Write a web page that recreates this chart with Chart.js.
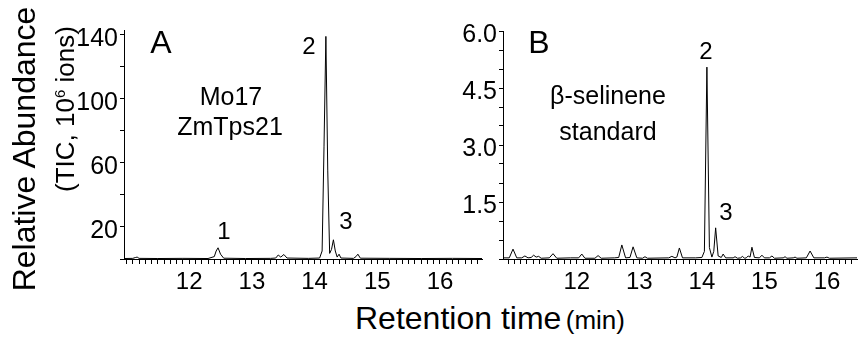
<!DOCTYPE html>
<html><head><meta charset="utf-8">
<script src="https://cdn.jsdelivr.net/npm/chart.js@4.4.1/dist/chart.umd.min.js"></script>
<style>
html,body{margin:0;padding:0;background:#fff;}
#wrap{position:relative;width:862px;height:341px;overflow:hidden;font-family:"Liberation Sans",Arial,sans-serif;color:#000;}
.box{position:absolute;}
.t{position:absolute;white-space:nowrap;line-height:1;transform:translate(-50%,-50%);}
</style></head><body>
<div id="wrap">
 <div class="box" style="left:0;top:0;width:490px;height:300px"><canvas id="cA" width="490" height="300"></canvas></div>
 <div class="box" style="left:430px;top:0;width:432px;height:300px"><canvas id="cB" width="432" height="300"></canvas></div>

 <div class="t" style="left:24px;top:149px;font-size:32px;transform:translate(-50%,-50%) rotate(-90deg)">Relative Abundance</div>
 <div class="t" style="left:65px;top:109px;font-size:26px;transform:translate(-50%,-50%) rotate(-90deg)">(TIC, 10<sup style="font-size:15px;vertical-align:9px">6</sup> ions)</div>
 <div class="t" style="left:355px;top:318px;transform:translate(0,-50%)"><span style="font-size:32px">Retention time</span> <span style="font-size:26px">(min)</span></div>

 <div class="t" style="left:161px;top:42px;font-size:32px">A</div>
 <div class="t" style="left:539px;top:42px;font-size:32px">B</div>
 <div class="t" style="left:231px;top:96px;font-size:25px">Mo17</div>
 <div class="t" style="left:230px;top:126px;font-size:25px">ZmTps21</div>
 <div class="t" style="left:608px;top:95px;font-size:25px">β-selinene</div>
 <div class="t" style="left:608px;top:131px;font-size:25px">standard</div>
 <div class="t" style="left:224px;top:231px;font-size:24px">1</div>
 <div class="t" style="left:309px;top:46px;font-size:24px">2</div>
 <div class="t" style="left:346px;top:221px;font-size:24px">3</div>
 <div class="t" style="left:706px;top:51px;font-size:24px">2</div>
 <div class="t" style="left:726px;top:212px;font-size:24px">3</div>
</div>
<script>
// ---- data ----
const timeA  = [10.96, 11.10, 11.14, 11.17, 11.20, 11.50, 11.90, 12.30, 12.40, 12.43, 12.46, 12.50, 12.55, 12.90, 13.30, 13.38, 13.42, 13.46, 13.51, 13.56, 13.90, 14.08, 14.12, 14.15, 14.18, 14.21, 14.24, 14.27, 14.30, 14.33, 14.36, 14.39, 14.42, 14.62, 14.66, 14.69, 14.73, 15.20, 15.70, 16.20, 16.67];
const abundA = [0.3, 0.4, 0.9, 1.2, 0.4, 0.3, 0.4, 0.3, 1.5, 5, 7, 3, 0.5, 0.3, 0.4, 0.6, 2.5, 1.2, 2.8, 0.6, 0.4, 0.6, 5, 70, 139, 55, 3.5, 6, 12, 5, 1.2, 3, 0.6, 0.4, 1.5, 3, 0.5, 0.4, 0.3, 0.4, 0.3];

const timeB  = [10.82, 10.92, 10.98, 11.04, 11.12, 11.17, 11.22, 11.27, 11.31, 11.35, 11.39, 11.43, 11.56, 11.62, 11.68, 11.90, 12.03, 12.08, 12.13, 12.29, 12.34, 12.39, 12.60, 12.67, 12.72, 12.78, 12.85, 12.90, 12.96, 13.05, 13.09, 13.13, 13.47, 13.52, 13.57, 13.60, 13.64, 13.69, 13.90, 14.00, 14.04, 14.08, 14.12, 14.16, 14.19, 14.22, 14.26, 14.31, 14.34, 14.38, 14.50, 14.53, 14.57, 14.62, 14.65, 14.68, 14.71, 14.74, 14.77, 14.80, 14.84, 14.92, 14.96, 15.00, 15.08, 15.12, 15.16, 15.30, 15.33, 15.36, 15.46, 15.49, 15.52, 15.67, 15.73, 15.79, 15.96, 16.00, 16.04, 16.48];
const abundB = [0.03, 0.03, 0.26, 0.03, 0.03, 0.08, 0.03, 0.04, 0.10, 0.05, 0.07, 0.02, 0.03, 0.14, 0.02, 0.03, 0.03, 0.13, 0.02, 0.02, 0.09, 0.02, 0.03, 0.04, 0.37, 0.03, 0.04, 0.32, 0.03, 0.02, 0.06, 0.02, 0.03, 0.07, 0.03, 0.05, 0.29, 0.03, 0.03, 0.04, 0.20, 5.05, 0.30, 0.05, 0.20, 0.82, 0.08, 0.04, 0.13, 0.03, 0.03, 0.06, 0.02, 0.03, 0.07, 0.02, 0.03, 0.08, 0.05, 0.31, 0.04, 0.03, 0.10, 0.03, 0.03, 0.08, 0.02, 0.03, 0.06, 0.02, 0.03, 0.05, 0.02, 0.03, 0.21, 0.03, 0.03, 0.05, 0.02, 0.03];

const xTickLabels  = [12, 13, 14, 15, 16];
const yTickLabelsA = [20, 60, 100, 140];
const yTickLabelsB = [1.5, 3.0, 4.5, 6.0];

// ---- chart builder ----
const FONT = "'Liberation Sans', Arial, sans-serif";
Chart.defaults.font.family = FONT;
Chart.defaults.color = '#000';

function makeChart(id, times, values, o) {
  const pts = times.map((t, i) => ({x: t, y: values[i]}));
  return new Chart(document.getElementById(id), {
    type: 'line',
    data: {datasets: [{data: pts, borderColor: '#000', borderWidth: 1, pointRadius: 0, tension: 0, fill: false}]},
    options: {
      responsive: false, animation: false,
      layout: {padding: {left: 0, right: o.padRight, top: o.padTop, bottom: 0}},
      plugins: {legend: {display: false}, tooltip: {enabled: false}},
      scales: {
        x: {
          type: 'linear', position: 'bottom', min: o.xmin, max: o.xmax,
          afterBuildTicks: s => {
            const t = [];
            for (let k = Math.ceil(o.xmin * 10 - 1e-9); k <= Math.floor(o.xmax * 10 + 1e-9); k++) t.push({value: k / 10});
            s.ticks = t;
          },
          afterFit: s => { s.height = 41; },
          ticks: {
            autoSkip: false, maxRotation: 0, padding: 4, color: '#000',
            font: {family: FONT, size: 24},
            callback: v => { const r = Math.round(v); return (Math.abs(v - r) < 1e-6 && xTickLabels.includes(r)) ? String(r) : ''; }
          },
          grid: {drawOnChartArea: false, drawTicks: true, tickLength: 5, tickColor: '#000', tickWidth: 1},
          border: {display: true, color: '#000', width: 1}
        },
        y: {
          type: 'linear', min: 0, max: o.ymax,
          afterBuildTicks: s => {
            const t = [];
            for (let k = 0; k * o.ystep <= o.ymax + 1e-9; k++) t.push({value: k * o.ystep});
            s.ticks = t;
          },
          afterFit: s => { s.width = o.yWidth; },
          ticks: {
            autoSkip: false, padding: 2, color: '#000', labelOffset: 4,
            font: {family: FONT, size: 25},
            callback: v => { const m = o.ylabels.find(l => Math.abs(l - v) < 1e-6); return m === undefined ? '' : o.fmt(m); }
          },
          grid: {drawOnChartArea: false, drawTicks: true, tickLength: 4, tickColor: '#000', tickWidth: 1},
          border: {display: true, color: '#000', width: 1}
        }
      }
    }
  });
}

makeChart('cA', timeA, abundA, {xmin: 10.96, xmax: 16.67, ymax: 143, ystep: 20, ylabels: yTickLabelsA,
  fmt: v => String(v), yWidth: 124, padRight: 8, padTop: 30});
makeChart('cB', timeB, abundB, {xmin: 10.82, xmax: 16.48, ymax: 6, ystep: 0.5, ylabels: yTickLabelsB,
  fmt: v => v.toFixed(1), yWidth: 73, padRight: 5, padTop: 31});
</script>
</body></html>
